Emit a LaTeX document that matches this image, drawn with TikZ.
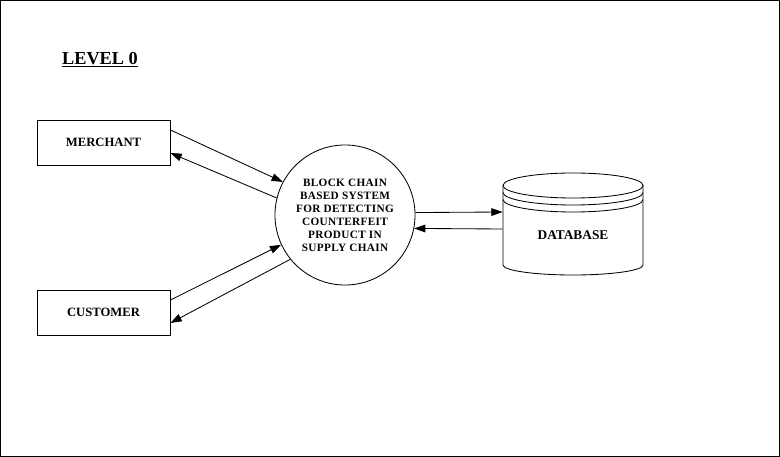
\documentclass[tikz,border=0pt]{standalone}
\usepackage{fontspec}
\setmainfont{Liberation Serif}
\usetikzlibrary{arrows.meta, positioning, calc}

\begin{document}
\begin{tikzpicture}[x=0.025cm, y=-0.025cm, line width=0.6pt,
        box/.style={rectangle, draw, minimum width=3.325cm, minimum height=1.125cm, align=center, font=\fontsize{9}{11}\selectfont\bfseries},
        proc/.style={circle, draw, minimum size=3.5cm, inner sep=0pt, align=center, font=\fontsize{8}{9.2}\selectfont\bfseries\addfontfeature{LetterSpace=3}},
        flow/.style={-{Triangle[length=8pt, width=5.5pt]}, line width=0.6pt}
    ]
        \useasboundingbox (0,0) rectangle (780,457);
        \draw (0.5,0.5) rectangle (779.5,456.5);

        \node[font=\fontsize{13}{15}\selectfont\bfseries] (title) at (100,60) {\underline{LEVEL 0}};

        \node[box] (merchant) at (103.5,142.5) {MERCHANT};
        \node[box] (customer) at (103.5,312.5) {CUSTOMER};
        \node[proc] (sys) at (345,215) {BLOCK CHAIN\\BASED SYSTEM\\FOR DETECTING\\COUNTERFEIT\\PRODUCT IN\\SUPPLY CHAIN};

        % data store
        \node[minimum width=3.5cm, minimum height=2.55cm, inner sep=0pt] (db) at (573,224) {};
        \draw (503,185.5) arc[start angle=180, end angle=-180, x radius=1.75cm, y radius=0.3125cm];
        \draw (503,192.5) arc[start angle=180, end angle=360, x radius=1.75cm, y radius=0.3125cm];
        \draw (503,199.5) arc[start angle=180, end angle=360, x radius=1.75cm, y radius=0.3125cm];
        \draw (503,185.5) -- (503,265) arc[start angle=180, end angle=360, x radius=1.75cm, y radius=0.25cm] -- (643,185.5);
        \node[font=\fontsize{9.5}{11}\selectfont\bfseries] (dblabel) at (573,235) {DATABASE};

        \draw[flow] ([yshift=0.3125cm]merchant.east) -- (sys.152);
        \draw[flow] (sys.166) -- ([yshift=-0.2625cm]merchant.east);
        \draw[flow] ([yshift=0.3125cm]customer.east) -- (sys.205);
        \draw[flow] (sys.219) -- ([yshift=-0.2625cm]customer.east);
        \draw[flow] (sys.2.5) -- ([yshift=0.3cm]db.west);
        \draw[flow] ([yshift=-0.125cm]db.west) -- (sys.-11);
    \end{tikzpicture}
\end{document}
